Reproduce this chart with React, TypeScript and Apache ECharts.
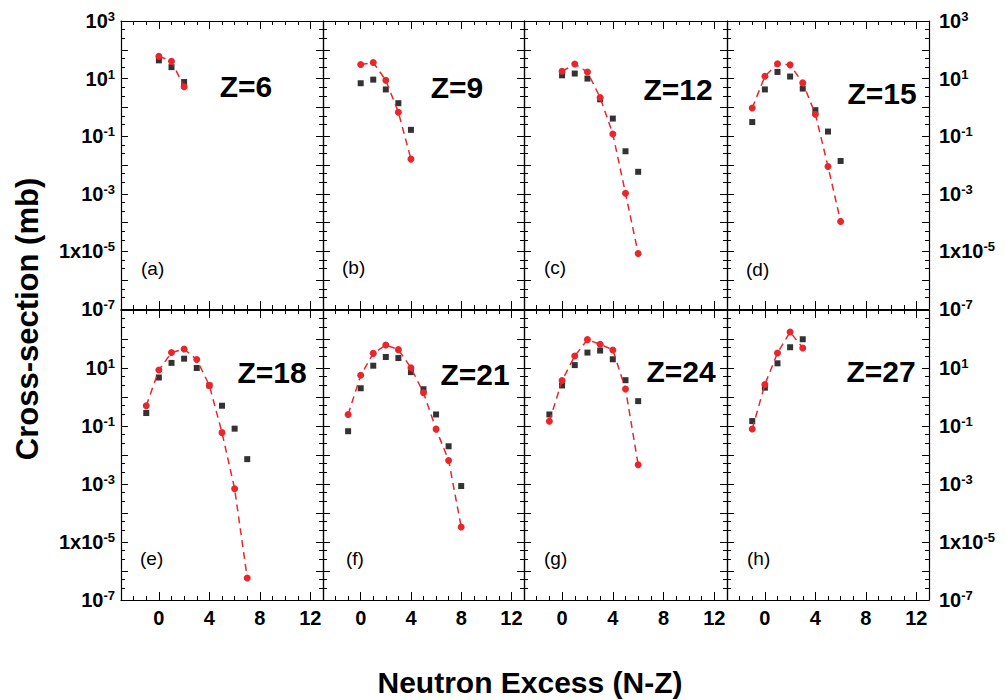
import React, { useEffect, useRef } from "react";
import * as echarts from "echarts";

// ---------- data ----------
const panelZ = [6, 9, 12, 15, 18, 21, 24, 27];
const panelTags = ["(a)", "(b)", "(c)", "(d)", "(e)", "(f)", "(g)", "(h)"];
// first neutron excess (N-Z) of each panel's isotope chain
const firstExcess = [0, 0, 0, -1, -1, -1, -1, -1];

// calculated cross-sections (mb), red dashed line
const calcZ6 = [60, 40, 5.2];
const calcZ9 = [31, 36, 8.7, 0.68, 0.016];
const calcZ12 = [18, 32, 17, 2.2, 0.12, 0.00105, 8.5e-6];
const calcZ15 = [0.95, 12, 33, 30, 7.1, 0.58, 0.0089, 1.1e-4];
const calcZ18 = [0.5, 8.5, 34, 45, 19.5, 2.5, 0.059, 6.9e-4, 5.7e-7];
const calcZ21 = [0.25, 5.6, 32, 62, 43, 10.2, 1.4, 0.078, 0.0065, 3.3e-5];
const calcZ24 = [0.145, 3.7, 26, 95, 66, 42, 1.9, 0.0046];
const calcZ27 = [0.079, 2.7, 33, 174, 49];

// measured cross-sections (mb), black squares
const expZ6 = [43, 25, 7.6];
const expZ9 = [6.9, 9.2, 4.2, 1.4, 0.166];
const expZ12 = [13, 15, 10, 1.9, 0.41, 0.03, 0.0058];
const expZ15 = [0.31, 4.2, 17, 11.8, 4.5, 0.8, 0.145, 0.0138];
const expZ18 = [0.28, 4.7, 15, 21, 10, 2.5, 0.5, 0.081, 0.0072];
const expZ21 = [0.066, 2.0, 12, 24, 22, 7.2, 1.85, 0.25, 0.02, 8.5e-4];
const expZ24 = [0.25, 2.5, 12.6, 34, 40, 20, 3.8, 0.72];
const expZ27 = [0.148, 2.1, 14.5, 52, 98];

const calcSets = [calcZ6, calcZ9, calcZ12, calcZ15, calcZ18, calcZ21, calcZ24, calcZ27];
const expSets = [expZ6, expZ9, expZ12, expZ15, expZ18, expZ21, expZ24, expZ27];

const xTickLabels = [0, 4, 8, 12];
const yDecades = [1e-7, 1e-6, 1e-5, 1e-4, 1e-3, 1e-2, 1e-1, 1, 10, 100, 1000];
const yLabelValuesTop = [1000, 10, 0.1, 1e-3, 1e-5, 1e-7];
const yLabelValuesBottom = [10, 0.1, 1e-3, 1e-5, 1e-7];
const yMinorMultipliers = [2.5, 5];

// ---------- layout ----------
const colLeft = [121, 323, 524, 727];
const colRight = [323, 524, 727, 929];
const rowTop = [21, 310];
const rowBottom = [309, 600];
const zLabelPos = [
  [246, 86], [457, 87], [678, 89], [882, 93],
  [272, 372], [475, 374], [681, 371], [881, 371],
];
const tagPos = [
  [141, 268], [342, 267], [544, 267], [746, 269],
  [140, 558], [346, 558], [544, 558], [747, 558],
];

const FONT = "'Liberation Sans', Arial, Helvetica, sans-serif";
const RED = "#e8262c";
const AXIS_COLOR = "#000";

const yMinorValues: number[] = [];
yDecades.slice(0, -1).forEach((d) => yMinorMultipliers.forEach((m) => yMinorValues.push(d * m)));

function yFormatter(v: number) {
  const e = Math.round(Math.log10(v));
  return e === -5 ? `{b|1x10}{s|${e}}` : `{b|10}{s|${e}}`;
}

const yRich = {
  b: { fontSize: 20, fontWeight: "bold", lineHeight: 22, color: "#000", fontFamily: FONT },
  s: { fontSize: 13, fontWeight: "bold", lineHeight: 12, verticalAlign: "top", color: "#000", fontFamily: FONT },
};

function buildOption() {
  const grids: any[] = [];
  const xAxes: any[] = [];
  const yAxes: any[] = [];
  const series: any[] = [];
  const graphics: any[] = [];

  for (let i = 0; i < 8; i++) {
    const r = Math.floor(i / 4);
    const c = i % 4;
    grids.push({
      left: colLeft[c],
      top: rowTop[r],
      width: colRight[c] - colLeft[c],
      height: rowBottom[r] - rowTop[r],
      containLabel: false,
    });

    const xBase = {
      type: "value",
      gridIndex: i,
      min: -3,
      max: 13,
      interval: 1,
      splitLine: { show: false },
      minorTick: { show: false },
    };
    for (const pos of ["bottom", "top"]) {
      xAxes.push({
        ...xBase,
        position: pos,
        axisLine: { show: true, onZero: false, lineStyle: { color: AXIS_COLOR, width: 1.2 } },
        axisTick: { show: true, inside: true, length: 4, lineStyle: { color: AXIS_COLOR, width: 1 } },
        axisLabel: {
          show: pos === "bottom" && r === 1,
          customValues: xTickLabels,
          fontSize: 20,
          fontWeight: "bold",
          color: "#000",
          fontFamily: FONT,
          margin: 8,
        },
      });
      xAxes.push({
        ...xBase,
        position: pos,
        axisLine: { show: false, onZero: false },
        axisTick: { show: true, inside: true, length: 8, customValues: xTickLabels, lineStyle: { color: AXIS_COLOR, width: 1 } },
        axisLabel: { show: false },
      });
    }

    const yBase = {
      type: "log",
      logBase: 10,
      gridIndex: i,
      min: 1e-7,
      max: 1e3,
      splitLine: { show: false },
      minorTick: { show: false },
    };
    for (const pos of ["left", "right"]) {
      const showLabels = (pos === "left" && c === 0) || (pos === "right" && c === 3);
      yAxes.push({
        ...yBase,
        position: pos,
        axisLine: { show: true, onZero: false, lineStyle: { color: AXIS_COLOR, width: 1.2 } },
        axisTick: { show: true, inside: true, length: 7, customValues: yDecades, lineStyle: { color: AXIS_COLOR, width: 1 } },
        axisLabel: {
          show: showLabels,
          customValues: r === 0 ? yLabelValuesTop : yLabelValuesBottom,
          formatter: yFormatter,
          rich: yRich,
          margin: pos === "left" ? 6 : 10,
        },
      });
      yAxes.push({
        ...yBase,
        position: pos,
        axisLine: { show: false, onZero: false },
        axisTick: { show: true, inside: true, length: 4, customValues: yMinorValues, lineStyle: { color: AXIS_COLOR, width: 1 } },
        axisLabel: { show: false },
      });
    }

    const x0 = firstExcess[i];
    series.push({
      type: "scatter",
      name: `exp Z=${panelZ[i]}`,
      xAxisIndex: 4 * i,
      yAxisIndex: 4 * i,
      data: expSets[i].map((v, k) => [x0 + k, v]),
      symbol: "rect",
      symbolSize: 6,
      itemStyle: { color: "#000" },
      z: 2,
    });
    series.push({
      type: "line",
      name: `calc Z=${panelZ[i]}`,
      xAxisIndex: 4 * i,
      yAxisIndex: 4 * i,
      data: calcSets[i].map((v, k) => [x0 + k, v]),
      symbol: "circle",
      symbolSize: 7,
      showSymbol: true,
      itemStyle: { color: RED },
      lineStyle: { color: RED, width: 1.5, type: [7, 5] },
      z: 3,
    });

    graphics.push({
      type: "text",
      x: zLabelPos[i][0],
      y: zLabelPos[i][1],
      style: {
        text: `Z=${panelZ[i]}`,
        fontSize: 30,
        fontWeight: "bold",
        fontFamily: FONT,
        fill: "#000",
        align: "center",
        verticalAlign: "middle",
      },
    });
    graphics.push({
      type: "text",
      x: tagPos[i][0],
      y: tagPos[i][1],
      style: {
        text: panelTags[i],
        fontSize: 19,
        fontFamily: FONT,
        fill: "#000",
        align: "left",
        verticalAlign: "middle",
      },
    });
  }

  graphics.push({
    type: "text",
    x: 530,
    y: 682,
    style: {
      text: "Neutron Excess (N-Z)",
      fontSize: 30,
      fontWeight: "bold",
      fontFamily: FONT,
      fill: "#000",
      align: "center",
      verticalAlign: "middle",
    },
  });
  graphics.push({
    type: "text",
    x: 27,
    y: 319,
    rotation: Math.PI / 2,
    style: {
      text: "Cross-section (mb)",
      fontSize: 31,
      fontWeight: "bold",
      fontFamily: FONT,
      fill: "#000",
      align: "center",
      verticalAlign: "middle",
    },
  });

  return {
    animation: false,
    backgroundColor: "#fff",
    textStyle: { fontFamily: FONT },
    grid: grids,
    xAxis: xAxes,
    yAxis: yAxes,
    series,
    graphic: graphics,
  };
}

export default function App() {
  const ref = useRef<HTMLDivElement>(null);
  useEffect(() => {
    if (!ref.current) return;
    const chart = echarts.init(ref.current, null, { renderer: "svg" });
    chart.setOption(buildOption() as any);
    return () => chart.dispose();
  }, []);
  return (
    <div
      ref={ref}
      style={{ position: "absolute", left: 0, top: 0, width: 1005, height: 700, background: "#fff" }}
    />
  );
}
